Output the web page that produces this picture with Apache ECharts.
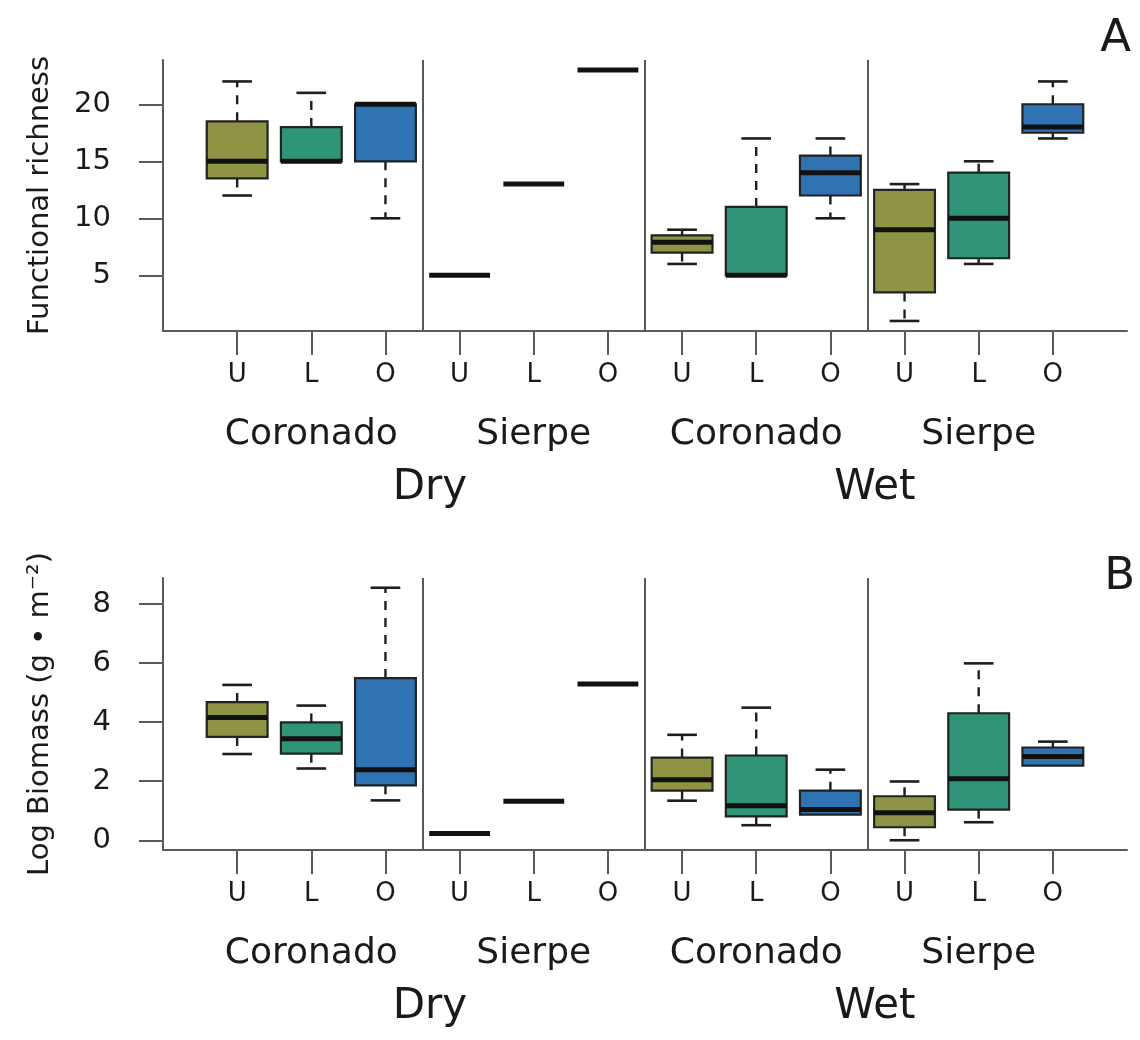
<!DOCTYPE html>
<html><head><meta charset="utf-8">
<script src="https://cdn.jsdelivr.net/npm/echarts@6/dist/echarts.min.js"></script>
<style>html,body{margin:0;padding:0;background:#fff}#c{width:1140px;height:1040px}</style>
</head><body><div id="c"></div>
<script>
// ---- data ----
const positions = [1, 2, 3, 4, 5, 6, 7, 8, 9, 10, 11, 12];
const treatments = ['U', 'L', 'O', 'U', 'L', 'O', 'U', 'L', 'O', 'U', 'L', 'O'];
const siteLabels = ['Coronado', 'Sierpe', 'Coronado', 'Sierpe'];
const sitePositions = [2, 5, 8, 11];
const seasonLabels = ['Dry', 'Wet'];
const seasonPositions = [3.6, 9.6];
const separators = [3.5, 6.5, 9.5];

const richnessTicks = [5, 10, 15, 20];
const richnessMin    = [12,   15, 10, 5, 13, 23, 6,   5,  10,   1,   6,   17];
const richnessQ1     = [13.5, 15, 15, 5, 13, 23, 7,   5,  12,   3.5, 6.5, 17.5];
const richnessMedian = [15,   15, 20, 5, 13, 23, 7.9, 5,  14,   9,   10,  18];
const richnessQ3     = [18.5, 18, 20, 5, 13, 23, 8.5, 11, 15.5, 12.5, 14, 20];
const richnessMax    = [22,   21, 20, 5, 13, 23, 9,   17, 17,   13,  15,  22];

const biomassTicks = [0, 2, 4, 6, 8];
const biomassMin    = [2.92, 2.43, 1.35, 0.23, 1.32, 5.29, 1.34, 0.51, 0.87, 0.0,  0.61, 2.53];
const biomassQ1     = [3.50, 2.93, 1.86, 0.23, 1.32, 5.29, 1.68, 0.81, 0.87, 0.44, 1.04, 2.53];
const biomassMedian = [4.16, 3.44, 2.39, 0.23, 1.32, 5.29, 2.05, 1.17, 1.04, 0.93, 2.08, 2.84];
const biomassQ3     = [4.68, 3.99, 5.49, 0.23, 1.32, 5.29, 2.80, 2.87, 1.68, 1.49, 4.30, 3.14];
const biomassMax    = [5.26, 4.56, 8.55, 0.23, 1.32, 5.29, 3.57, 4.49, 2.39, 1.99, 5.99, 3.34];

const treatmentColors = { U: '#8E9443', L: '#2F9478', O: '#2F73B2' };

// ---- build ----
const FONT = 'DejaVu Sans';
const AXIS_COLOR = '#5a5a5a';
const TEXT_COLOR = '#1a1a1a';

function rows(mn, q1, md, q3, mx) {
  return positions.map((p, i) => [p, mn[i], q1[i], md[i], q3[i], mx[i]]);
}

function renderBox(params, api) {
  const x = api.value(0);
  const mn = api.value(1), q1 = api.value(2), md = api.value(3), q3 = api.value(4), mx = api.value(5);
  const hb = 0.41, hc = 0.2;
  const col = treatmentColors[treatments[params.dataIndex]];
  const children = [];
  const cx = api.coord([x, md])[0];
  const yOf = v => api.coord([x, v])[1];
  const xl = api.coord([x - hb, md])[0], xr = api.coord([x + hb, md])[0];
  const cl = api.coord([x - hc, md])[0], cr = api.coord([x + hc, md])[0];
  const dash = { stroke: '#1e1e1e', lineWidth: 2.4, lineDash: [9, 8] };
  const solid = { stroke: '#1e1e1e', lineWidth: 2.6 };
  if (mx > q3) {
    children.push({ type: 'line', shape: { x1: cx, y1: yOf(q3), x2: cx, y2: yOf(mx) }, style: dash });
    children.push({ type: 'line', shape: { x1: cl, y1: yOf(mx), x2: cr, y2: yOf(mx) }, style: solid });
  }
  if (mn < q1) {
    children.push({ type: 'line', shape: { x1: cx, y1: yOf(q1), x2: cx, y2: yOf(mn) }, style: dash });
    children.push({ type: 'line', shape: { x1: cl, y1: yOf(mn), x2: cr, y2: yOf(mn) }, style: solid });
  }
  if (q3 > q1) {
    children.push({ type: 'rect', shape: { x: xl, y: yOf(q3), width: xr - xl, height: yOf(q1) - yOf(q3) },
      style: { fill: col, stroke: '#222', lineWidth: 2.2 } });
  }
  children.push({ type: 'line', shape: { x1: xl, y1: yOf(md), x2: xr, y2: yOf(md) },
    style: { stroke: '#111', lineWidth: 5 } });
  return { type: 'group', children };
}

function xAxes(gridIndex) {
  const base = { gridIndex, type: 'value', position: 'bottom', min: 0, max: 13, splitLine: { show: false } };
  return [
    Object.assign({}, base, {
      axisLine: { show: true, onZero: false, lineStyle: { color: AXIS_COLOR, width: 2 } },
      axisTick: { show: true, customValues: positions, length: 24, lineStyle: { color: AXIS_COLOR, width: 2 } },
      axisLabel: { customValues: positions, formatter: v => treatments[positions.indexOf(v)] || '',
        fontFamily: FONT, fontSize: 26, color: TEXT_COLOR, margin: 31 }
    }),
    Object.assign({}, base, {
      axisLine: { show: false }, axisTick: { show: false },
      axisLabel: { customValues: sitePositions, formatter: v => siteLabels[sitePositions.indexOf(v)] || '',
        fontFamily: FONT, fontSize: 36, color: TEXT_COLOR, margin: 86 }
    }),
    Object.assign({}, base, {
      axisLine: { show: false }, axisTick: { show: false },
      axisLabel: { customValues: seasonPositions, formatter: v => seasonLabels[seasonPositions.indexOf(v)] || '',
        fontFamily: FONT, fontSize: 42, color: TEXT_COLOR, margin: 136 }
    })
  ];
}

function yAxis(gridIndex, min, max, ticks, name) {
  return {
    gridIndex, type: 'value', min, max,
    splitLine: { show: false },
    axisLine: { show: true, onZero: false, lineStyle: { color: AXIS_COLOR, width: 2 } },
    axisTick: { show: true, customValues: ticks, length: 24, lineStyle: { color: AXIS_COLOR, width: 2 } },
    axisLabel: { customValues: ticks, fontFamily: FONT, fontSize: 29, color: TEXT_COLOR, margin: 52 },
    name, nameLocation: 'middle', nameGap: 108, nameRotate: 90,
    nameTextStyle: { fontFamily: FONT, fontSize: 29, color: TEXT_COLOR }
  };
}

function boxSeries(idx, data) {
  return {
    type: 'custom', xAxisIndex: idx * 3, yAxisIndex: idx,
    renderItem: renderBox, data,
    encode: { x: 0, y: [1, 2, 3, 4, 5] },
    markLine: {
      silent: true, symbol: 'none', label: { show: false },
      lineStyle: { color: AXIS_COLOR, width: 2, type: 'solid' },
      data: separators.map(v => ({ xAxis: v }))
    }
  };
}

const option = {
  animation: false,
  backgroundColor: '#fff',
  title: [
    { text: 'A', right: 4, top: 12, textStyle: { fontFamily: FONT, fontSize: 45, fontWeight: 'normal', color: TEXT_COLOR } },
    { text: 'B', right: 0, top: 550, textStyle: { fontFamily: FONT, fontSize: 45, fontWeight: 'normal', color: TEXT_COLOR } }
  ],
  grid: [
    { left: 163, top: 60, width: 964, height: 271, outerBoundsMode: 'none', containLabel: false },
    { left: 163, top: 578, width: 964, height: 272, outerBoundsMode: 'none', containLabel: false }
  ],
  xAxis: [...xAxes(0), ...xAxes(1)],
  yAxis: [
    yAxis(0, 0.12, 23.88, richnessTicks, 'Functional richness'),
    yAxis(1, -0.33, 8.88, biomassTicks, 'Log Biomass (g \u2022 m\u207B\u00B2)')
  ],
  series: [
    boxSeries(0, rows(richnessMin, richnessQ1, richnessMedian, richnessQ3, richnessMax)),
    boxSeries(1, rows(biomassMin, biomassQ1, biomassMedian, biomassQ3, biomassMax))
  ]
};

const chart = echarts.init(document.getElementById('c'), null, { renderer: 'canvas' });
chart.setOption(option);
</script>
</body></html>
